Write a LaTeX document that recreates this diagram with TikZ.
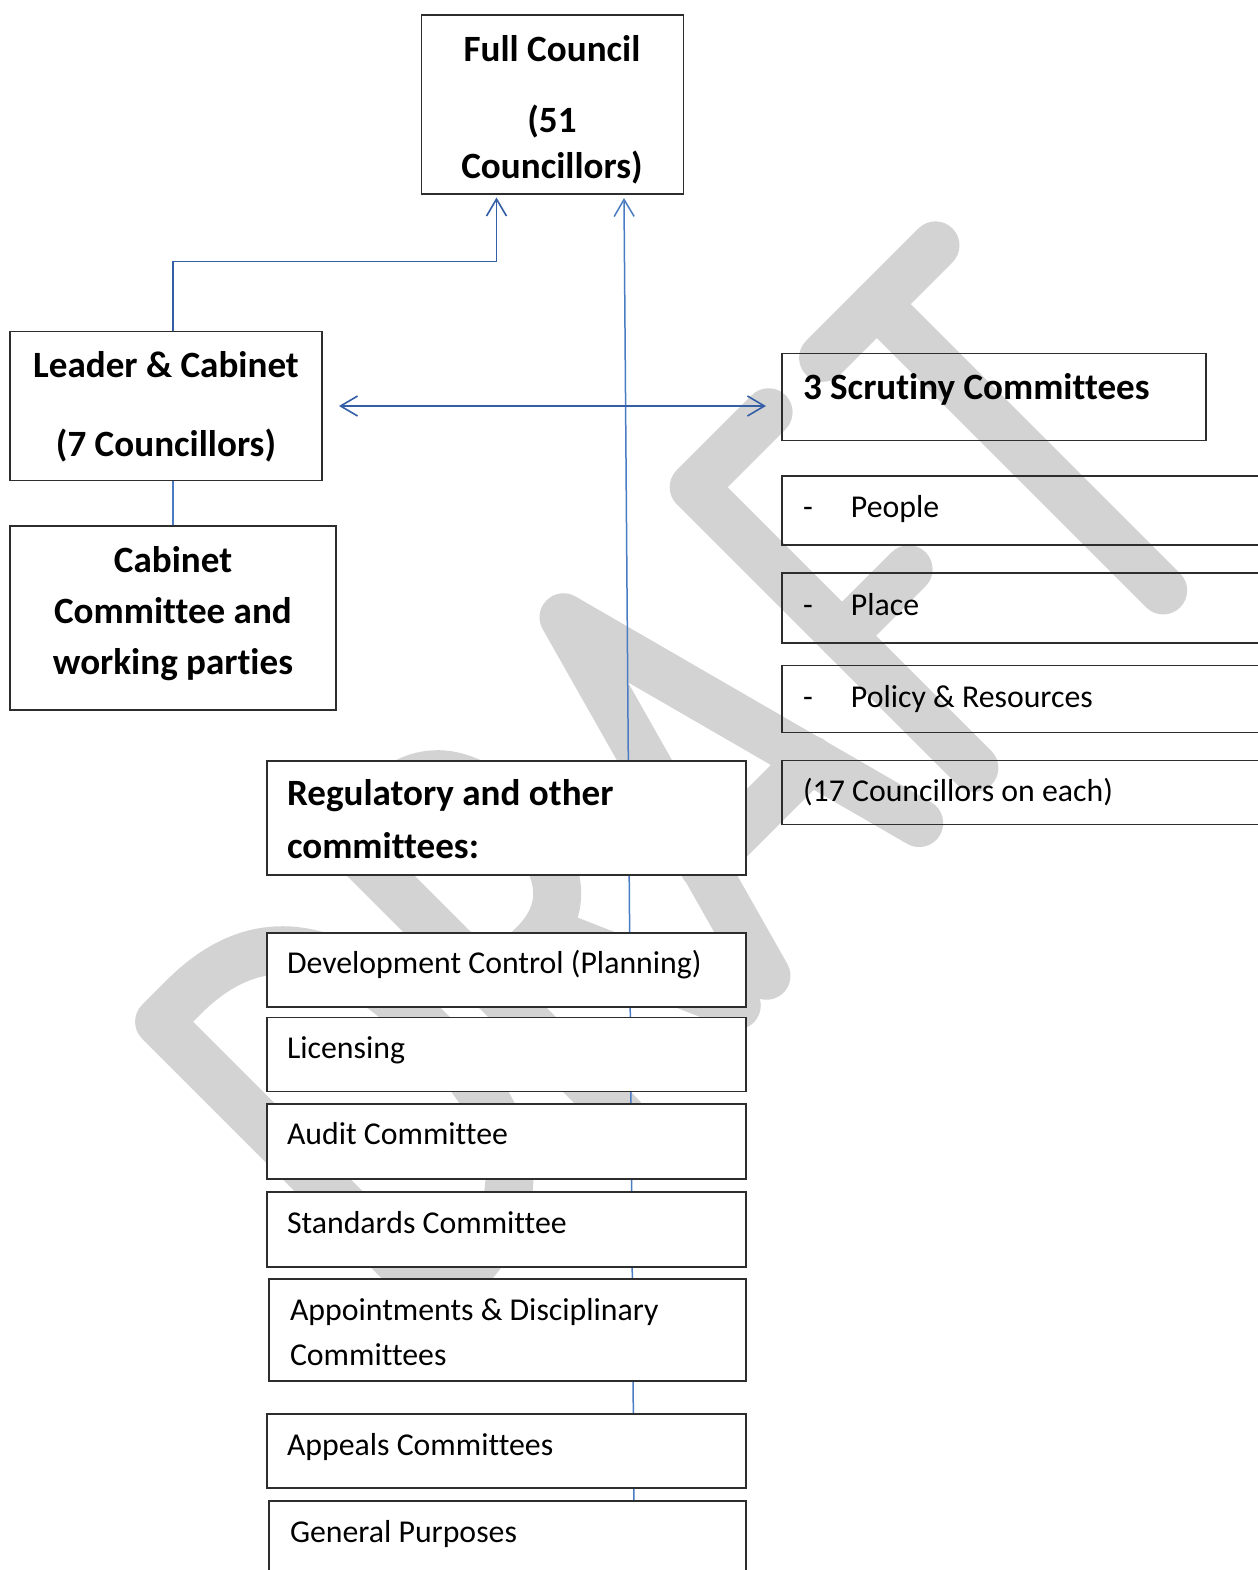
\documentclass[tikz,border=0pt]{standalone}
\usepackage{fontspec}
\setmainfont{Carlito}[Ligatures=NoCommon]
\usetikzlibrary{arrows.meta,calc}
\definecolor{wmgray}{RGB}{211,211,211}
\definecolor{arrblue}{RGB}{52,94,165}
\definecolor{lineblue}{RGB}{74,124,196}
\definecolor{boxline}{RGB}{45,45,45}
\newcommand\regf{\fontsize{15.9pt}{19pt}\selectfont}
\newcommand\boldf{\fontsize{18.55pt}{22pt}\selectfont\bfseries}
\pgfdeclarelayer{wmlayer}
\pgfdeclarelayer{conlayer}
\pgfsetlayers{wmlayer,conlayer,main}
\begin{document}
\begin{tikzpicture}[x=0.5pt,y=-0.5pt,
  boxw/.style={draw=boxline, line width=0.65pt, fill=white, anchor=north west, inner sep=0pt, outer sep=0pt},
  boxo/.style={draw=boxline, line width=0.65pt, anchor=north west, inner sep=0pt, outer sep=0pt},
  rt/.style={font=\regf, inner sep=0pt, outer sep=0pt, anchor=base west},
  bt/.style={font=\boldf, inner sep=0pt, outer sep=0pt, anchor=base west},
  btc/.style={font=\boldf, inner sep=0pt, outer sep=0pt, anchor=base},
  arr/.style={draw=arrblue, line width=0.8pt, -{Straight Barb[length=8.5pt,width=10pt]}},
  arrv/.style={draw=lineblue, line width=0.75pt, -{Straight Barb[length=8.5pt,width=10pt]}},
  dbl/.style={draw=arrblue, line width=0.8pt, {Straight Barb[length=8.5pt,width=10pt]}-{Straight Barb[length=8.5pt,width=10pt]}},
  ln/.style={draw=lineblue, line width=0.75pt},
  wm/.style={color=wmgray, line width=24pt, line cap=round, line join=round}
]
\useasboundingbox (0,0) rectangle (1258,1570);

% boxes
\node[boxw, minimum width=131pt, minimum height=89.5pt] (fc) at (421.5,15) {};
\node[boxw, minimum width=156pt, minimum height=74.5pt] (lc) at (10,331.5) {};
\node[boxw, minimum width=163pt, minimum height=92pt] (cc) at (10,526) {};
\node[boxo, minimum width=212pt, minimum height=43.5pt] (sc) at (782,353.5) {};
\node[boxo, minimum width=250pt, minimum height=34.5pt] (pe) at (782,476) {};
\node[boxo, minimum width=250pt, minimum height=35pt] (pl) at (782,573) {};
\node[boxo, minimum width=250pt, minimum height=33.5pt] (po) at (782,665.5) {};
\node[boxo, minimum width=250pt, minimum height=32pt] (ce) at (782,760.5) {};
\node[boxw, minimum width=239.5pt, minimum height=57pt] (rg) at (267,761) {};
\node[boxw, minimum width=239.5pt, minimum height=37pt] (dc) at (267,933) {};
\node[boxw, minimum width=239.5pt, minimum height=37pt] (li) at (267,1017.5) {};
\node[boxw, minimum width=239.5pt, minimum height=37.5pt] (au) at (267,1104) {};
\node[boxw, minimum width=239.5pt, minimum height=37.5pt] (st) at (267,1192) {};
\node[boxw, minimum width=238.5pt, minimum height=51pt] (ap) at (269,1279) {};
\node[boxw, minimum width=239.5pt, minimum height=37pt] (apl) at (267,1414) {};
\node[boxw, minimum width=238.5pt, minimum height=50pt] (gp) at (269,1501) {};

% texts
\node[btc] (t1) at (552,61) {Full Council};
\node[btc] (t2) at (552,132) {(51};
\node[btc] (t3) at (552,178) {Councillors)};
\node[btc] (t4) at (166,377) {Leader \& Cabinet};
\node[btc] (t5) at (166,456) {(7 Councillors)};
\node[btc] (t6) at (173,572) {Cabinet};
\node[btc] (t7) at (173,623) {Committee and};
\node[btc] (t8) at (173,674) {working parties};
\node[bt] (t9) at (803,399) {3 Scrutiny Committees};
\node[rt] (t10) at (803,517) {\makebox[24pt][l]{-}People};
\node[rt] (t11) at (803,615) {\makebox[24pt][l]{-}Place};
\node[rt] (t12) at (803,707) {\makebox[24pt][l]{-}Policy \& Resources};
\node[rt] (t13) at (803,801) {(17 Councillors on each)};
\node[bt] (t14) at (287,805) {Regulatory and other};
\node[bt] (t15) at (287,858) {committees:};
\node[rt] (t16) at (287,973) {Development Control (Planning)};
\node[rt] (t17) at (287,1058) {Licensing};
\node[rt] (t18) at (287,1144) {Audit Committee};
\node[rt] (t19) at (287,1233) {Standards Committee};
\node[rt] (t20) at (290,1320) {Appointments \& Disciplinary};
\node[rt] (t21) at (290,1365) {Committees};
\node[rt] (t22) at (287,1455) {Appeals Committees};
\node[rt] (t23) at (290,1542) {General Purposes};

% connectors
\begin{pgfonlayer}{conlayer}
\coordinate (fcL) at ($(fc.south west)+(75,3.5)$);
\coordinate (fcR) at ($(fc.south west)+(202.5,4)$);
\coordinate (lcT) at (lc.north -| cc.north);
\coordinate (elb) at ($(fcL)+(0,64)$);
\coordinate (gpT) at ($(gp.north west)+(365,0)$);
\draw[arr] (lcT) |- (elb) -- (fcL);
\draw[arrv] (gpT) -- (fcR);
\draw[dbl] ($(lc.east)+(17,0)$) -- ($(lc.east -| sc.west)+(-16,0)$);
\draw[ln] (lc.south -| cc.north) -- (cc.north);
\end{pgfonlayer}

% watermark
\begin{pgfonlayer}{wmlayer}
\fill[white] (0,0) rectangle (1258,1570);
\begin{scope}[x={(0.35355pt,0.35355pt)}, y={(0.35355pt,-0.35355pt)}, wm]
% D
\draw (-610,835) -- (-575,835) .. controls (-455,835) and (-425,925) .. (-425,1032) .. controls (-425,1140) and (-455,1229) .. (-575,1229) -- (-610,1229) -- cycle;
% R
\draw (-350,1229) -- (-350,835) -- (-300,835) .. controls (-235,835) and (-212,878) .. (-212,940) .. controls (-212,1005) and (-235,1045) .. (-290,1045) -- (-350,1045);
\draw (-272,1045) -- (-190,1232);
% A
\draw (-148,1232) -- (-38,835) -- (68,1232);
\draw (-115,1110) -- (36,1110);
% F
\draw (252,835) -- (146,835) -- (146,1232);
\draw (146,1045) -- (240,1045);
% T
\draw (329,835) -- (488,835);
\draw (405,835) -- (405,1240);
\end{scope}
\end{pgfonlayer}
\end{tikzpicture}
\end{document}
